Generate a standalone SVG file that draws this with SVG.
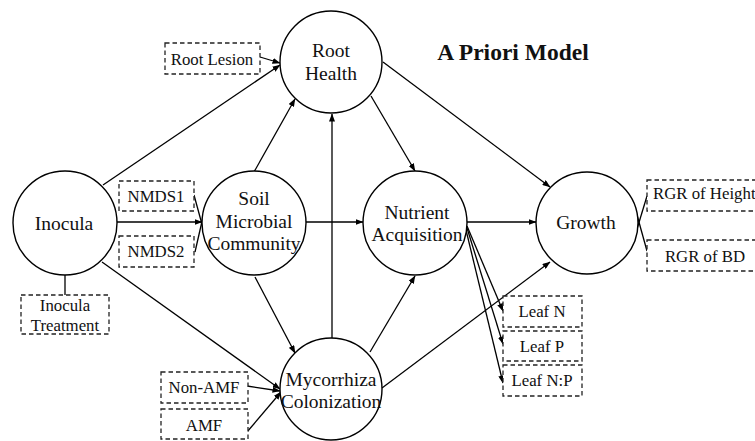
<svg xmlns="http://www.w3.org/2000/svg" width="755" height="441" viewBox="0 0 755 441">
<defs>
<marker id="ah" markerWidth="8" markerHeight="6" refX="7.5" refY="3" orient="auto" markerUnits="userSpaceOnUse">
<path d="M0,0 L8,3 L0,6 Z" fill="#000"/>
</marker>
<style>
.n{fill:#fff;stroke:#000;stroke-width:1.4}
.b{fill:#fff;stroke:#222;stroke-width:1.3;stroke-dasharray:4.5,3}
.t{font-family:"Liberation Serif","Times New Roman",serif;font-size:19.5px;fill:#111;text-anchor:middle}
.s{font-family:"Liberation Serif","Times New Roman",serif;font-size:16.8px;fill:#111;text-anchor:middle}
.c line,.c polyline{stroke:#000;stroke-width:1.3;fill:none}
.a{marker-end:url(#ah)}
</style>
</defs>
<rect width="755" height="441" fill="#fff"/>
<text x="513" y="60" style="font-family:'Liberation Serif','Times New Roman',serif;font-weight:bold;font-size:23.5px;fill:#111;text-anchor:middle">A Priori Model</text>
<g id="connectors" class="c">
<line class="a" x1="260" y1="57" x2="280" y2="63"/>
<line class="a" x1="103" y1="185" x2="280" y2="65"/>
<line class="a" x1="254" y1="172" x2="295" y2="99"/>
<line class="a" x1="332" y1="338" x2="332" y2="114"/>
<line class="a" x1="371" y1="96" x2="415" y2="171"/>
<line class="a" x1="383" y1="62" x2="550" y2="187"/>
<line class="a" x1="117" y1="222" x2="202" y2="222"/>
<line x1="194" y1="195" x2="203" y2="228"/>
<line x1="195" y1="252" x2="203" y2="217"/>
<line class="a" x1="306" y1="222" x2="363" y2="222"/>
<line class="a" x1="467" y1="222" x2="536" y2="222"/>
<line class="a" x1="102" y1="262" x2="280" y2="389"/>
<line class="a" x1="255" y1="277" x2="295" y2="353"/>
<line class="a" x1="247" y1="386" x2="280" y2="391"/>
<line class="a" x1="247" y1="432" x2="281" y2="392"/>
<line class="a" x1="370" y1="352" x2="415" y2="276"/>
<line class="a" x1="382" y1="388" x2="550" y2="262"/>
<line class="a" x1="467" y1="226" x2="503" y2="311"/>
<line class="a" x1="467" y1="228" x2="503" y2="344"/>
<line class="a" x1="466" y1="230" x2="503" y2="383"/>
<line x1="65" y1="275" x2="65" y2="295"/>
<line x1="647" y1="196" x2="637" y2="229"/>
<line x1="647" y1="251" x2="637" y2="215"/>
</g>
<g id="inocula"><circle class="n" cx="65" cy="223" r="52"/><text class="t" x="64" y="230">Inocula</text></g>
<g id="soil"><circle class="n" cx="254" cy="223" r="52"/><text class="t" x="254" y="205">Soil</text><text class="t" x="254" y="228">Microbial</text><text class="t" x="254" y="250">Community</text></g>
<g id="root-health"><circle class="n" cx="331" cy="62" r="51"/><text class="t" x="331" y="57">Root</text><text class="t" x="331" y="80">Health</text></g>
<g id="nutrient"><circle class="n" cx="415" cy="223" r="52"/><text class="t" x="417" y="219">Nutrient</text><text class="t" x="417" y="241">Acquisition</text></g>
<g id="growth"><circle class="n" cx="587" cy="223" r="51"/><text class="t" x="586" y="229">Growth</text></g>
<g id="mycorrhiza"><circle class="n" cx="331" cy="389" r="51"/><text class="t" x="331" y="386">Mycorrhiza</text><text class="t" x="331" y="408">Colonization</text></g>
<g id="root-lesion"><rect class="b" x="165" y="43" width="95" height="31"/><text class="s" x="212" y="65">Root Lesion</text></g>
<g id="nmds1"><rect class="b" x="119" y="181" width="75" height="30"/><text class="s" x="156" y="202">NMDS1</text></g>
<g id="nmds2"><rect class="b" x="119" y="236" width="75" height="31"/><text class="s" x="156" y="257">NMDS2</text></g>
<g id="inocula-treatment"><rect class="b" x="21" y="295" width="88" height="39"/><text class="s" x="65" y="311">Inocula</text><text class="s" x="65" y="331">Treatment</text></g>
<g id="non-amf"><rect class="b" x="161" y="372" width="87" height="31"/><text class="s" x="204" y="393">Non-AMF</text></g>
<g id="amf"><rect class="b" x="161" y="409" width="87" height="30"/><text class="s" x="204" y="431">AMF</text></g>
<g id="rgr-height"><rect class="b" x="647" y="180" width="120" height="31"/><text class="s" x="653" y="199" style="text-anchor:start">RGR of Height</text></g>
<g id="rgr-bd"><rect class="b" x="647" y="240" width="120" height="31"/><text class="s" x="705" y="262">RGR of BD</text></g>
<g id="leaf-n"><rect class="b" x="503" y="296" width="79" height="31"/><text class="s" x="542" y="317">Leaf N</text></g>
<g id="leaf-p"><rect class="b" x="503" y="331" width="79" height="30"/><text class="s" x="542" y="352">Leaf P</text></g>
<g id="leaf-np"><rect class="b" x="503" y="365" width="79" height="31"/><text class="s" x="542" y="386">Leaf N:P</text></g>
</svg>
